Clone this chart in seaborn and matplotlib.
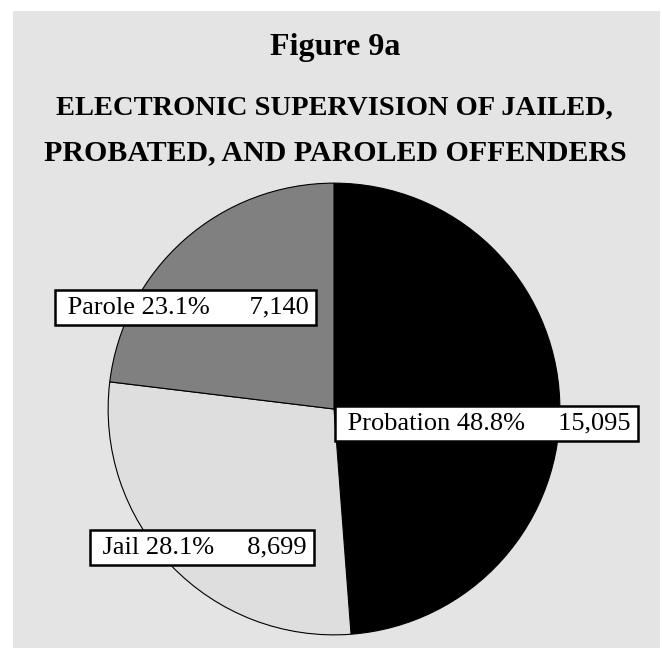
import numpy as np
import pandas as pd
import seaborn as sns
import matplotlib.pyplot as plt
from matplotlib.patches import Rectangle

# data
categories = ['Probation', 'Jail', 'Parole']
counts = [15095, 8699, 7140]
slice_colors = ['#000000', '#dedede', '#808080']
label_pos = [(0.674, -0.064), (-0.586, -0.614), (-0.659, 0.451)]
label_gap = [5, 5, 6]   # spaces between percent and count

df = pd.DataFrame({'group': categories, 'count': counts})
df['pct'] = df['count'] / df['count'].sum() * 100

sns.set_theme(style='white')
plt.rcParams['font.family'] = ['Liberation Serif', 'DejaVu Serif']
plt.rcParams['text.color'] = 'black'

fig = plt.figure(figsize=(6.62, 6.48), dpi=100)
fig.patch.set_facecolor('white')
# grey panel behind everything
fig.patches.append(Rectangle((13 / 662, 0), 647 / 662, 637 / 648, transform=fig.transFigure,
                             facecolor='#e4e4e4', edgecolor='none', zorder=-5))

fig.text(0.507, 0.927, 'Figure 9a', ha='center', va='center', fontsize=23, fontweight='bold')
fig.text(0.505, 0.833, 'ELECTRONIC SUPERVISION OF JAILED,', ha='center', va='center',
         fontsize=20.5, fontweight='bold')
fig.text(0.507, 0.765, 'PROBATED, AND PAROLED OFFENDERS', ha='center', va='center',
         fontsize=21.5, fontweight='bold')

ax = fig.add_axes([107 / 662, 12 / 648, 454 / 662, 454 / 648], zorder=2)
ax.patch.set_visible(False)
ax.pie(df['count'], colors=slice_colors, startangle=90, counterclock=False, radius=1,
       wedgeprops=dict(edgecolor='black', linewidth=0.8))
ax.set_xlim(-1.005, 1.005)
ax.set_ylim(-1.005, 1.005)
ax.set_aspect('equal')
ax.axis('off')

for (x, y), gap, (_, row) in zip(label_pos, label_gap, df.iterrows()):
    txt = ' {} {:.1f}%{}{:,}'.format(row['group'], row['pct'], ' ' * gap, row['count'])
    ax.text(x, y, txt, ha='center', va='center', fontsize=19, color='black',
            bbox=dict(boxstyle='square,pad=0.25', facecolor='white', edgecolor='black', linewidth=1.8))

fig.savefig('out.png', dpi=100)
